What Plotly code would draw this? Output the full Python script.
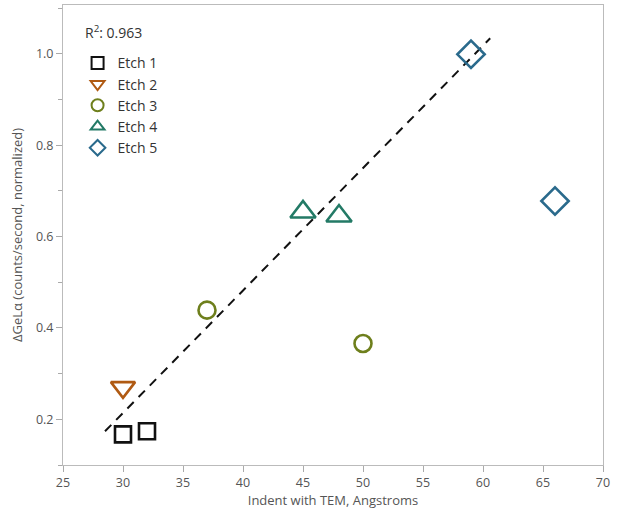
import plotly.graph_objects as go

# Data
series_names = ["Etch 1", "Etch 2", "Etch 3", "Etch 4", "Etch 5"]
etch1_x = [30, 32]
etch1_y = [0.167, 0.174]
etch2_x = [30]
etch2_y = [0.270]
etch3_x = [37, 50]
etch3_y = [0.439, 0.366]
etch4_x = [45, 48]
etch4_y = [0.654, 0.645]
etch5_x = [59, 66]
etch5_y = [0.999, 0.678]

# Regression line
fit_slope = 0.0268
fit_intercept = -0.590
fit_x_range = [28.5, 60.6]
r_squared = 0.963

x_ticks = [25, 30, 35, 40, 45, 50, 55, 60, 65, 70]
y_ticks = [0.2, 0.4, 0.6, 0.8, 1.0]

symbols = ["square-open", "triangle-down-open", "circle-open", "triangle-up-open", "diamond-open"]
sizes = [16, 21, 17, 22, 21]
colors = ["#111111", "#B05A12", "#6E7F1C", "#237A66", "#2A6A8C"]
xs = [etch1_x, etch2_x, etch3_x, etch4_x, etch5_x]
ys = [etch1_y, etch2_y, etch3_y, etch4_y, etch5_y]

FONT = "Open Sans, DejaVu Sans, sans-serif"

fig = go.Figure()

fit_y = [fit_slope * x + fit_intercept for x in fit_x_range]
fig.add_trace(go.Scatter(
    x=fit_x_range, y=fit_y, mode="lines",
    line=dict(color="#111111", width=2, dash="9px,7px"),
    showlegend=False, hoverinfo="skip",
))

for name, x, y, sym, sz, col in zip(series_names, xs, ys, symbols, sizes, colors):
    fig.add_trace(go.Scatter(
        x=x, y=y, mode="markers", name=name,
        marker=dict(symbol=sym, size=sz, color=col, line=dict(width=2.6, color=col)),
    ))

fig.add_annotation(
    x=0.037, y=0.967, xref="paper", yref="paper", xanchor="left", yanchor="top",
    text="R<sup>2</sup>: %.3f" % r_squared, showarrow=False,
    font=dict(family=FONT, size=14, color="#333333"),
)

fig.update_layout(
    width=619, height=514,
    margin=dict(l=63, r=16, t=5, b=49),
    paper_bgcolor="white", plot_bgcolor="white",
    font=dict(family=FONT, size=12, color="#555555"),
    legend=dict(
        x=0.027, y=0.908, xanchor="left", yanchor="top",
        bgcolor="rgba(0,0,0,0)", font=dict(family=FONT, size=14, color="#333333"),
        tracegroupgap=0, itemsizing="constant",
    ),
    xaxis=dict(
        range=[25, 70], tickvals=x_ticks, ticks="outside", ticklen=6, tickcolor="#AAAAAA",
        showgrid=False, zeroline=False, showline=True, linecolor="#BBBBBB", linewidth=1,
        mirror=True, automargin=False,
        title=dict(text="Indent with TEM, Angstroms", font=dict(size=13, color="#555555"), standoff=4),
        tickfont=dict(size=12.5, color="#555555"),
    ),
    yaxis=dict(
        range=[0.1, 1.107], tickvals=y_ticks, tickformat=".1f", ticks="outside", ticklen=6,
        tickcolor="#AAAAAA",
        minor=dict(dtick=0.1, tick0=0.1, ticks="outside", ticklen=4, tickcolor="#AAAAAA"),
        showgrid=False, zeroline=False, showline=True, linecolor="#BBBBBB", linewidth=1,
        mirror=True, automargin=False,
        title=dict(text="ΔGeLα (counts/second, normalized)", font=dict(size=13, color="#555555"), standoff=10),
        tickfont=dict(size=12.5, color="#555555"),
    ),
)

fig.write_html("out.html", config={"displayModeBar": False},
               post_script="document.body.style.margin='0px';")
